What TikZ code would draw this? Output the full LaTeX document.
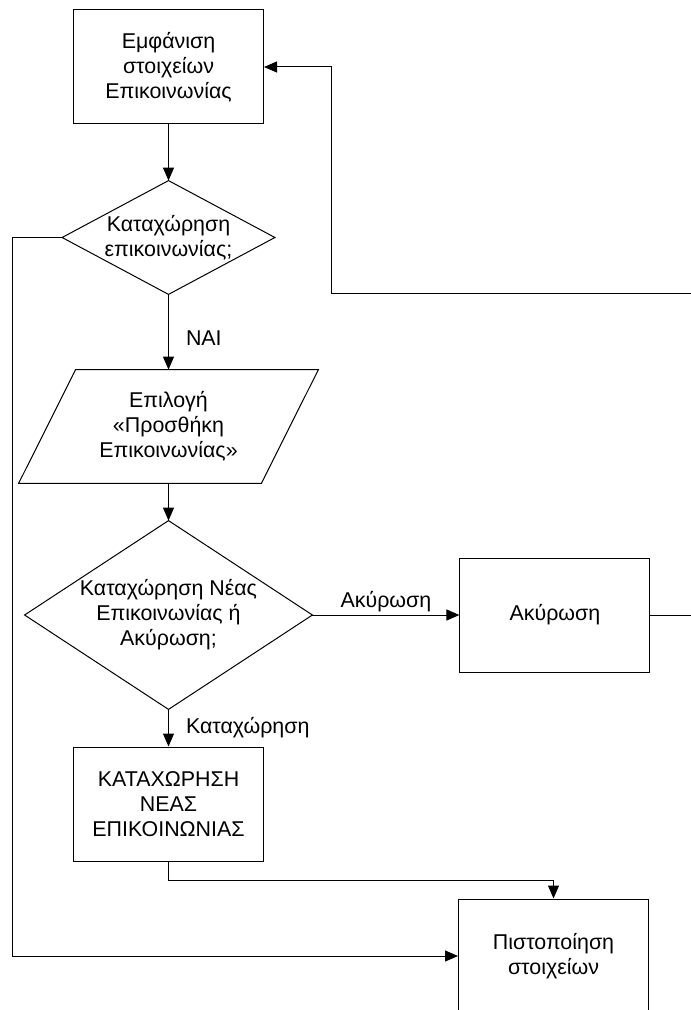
\documentclass[tikz,border=0pt]{standalone}
\usepackage{fontspec}
\setmainfont{Liberation Sans}
\usetikzlibrary{arrows.meta,positioning,calc}

\begin{document}
\begin{tikzpicture}[
    x=0.5pt, y=-0.5pt,
    every node/.style={font=\fontsize{10.7}{12.5}\selectfont},
    box/.style={rectangle, draw, line width=0.5pt, align=center, minimum width=95pt, minimum height=57pt, inner sep=2pt},
    dec/.style={rectangle, align=center, inner sep=0pt},
    io/.style={rectangle, align=center, inner sep=0pt, minimum width=121pt, minimum height=56.5pt},
    lbl/.style={inner sep=0pt},
    line/.style={line width=0.5pt},
    arrow/.style={-{Triangle[length=6.5pt, width=5.5pt]}, line width=0.5pt}
]
    \useasboundingbox (0,0) rectangle (690,1010);

    \node [box] (show) at (168.5,67) {Εμφάνιση\\στοιχείων\\Επικοινωνίας};
    \node [dec, minimum width=106pt, minimum height=56.5pt] (ask) at (168.5,237.5) {Καταχώρηση\\επικοινωνίας;};
    \node [io] (pick) at (168.5,426.5) {Επιλογή\\«Προσθήκη\\Επικοινωνίας»};
    \node [dec, minimum width=143.5pt, minimum height=94pt] (ask2) at (168.5,615) {Καταχώρηση Νέας\\Επικοινωνίας ή\\Ακύρωση;};
    \node [box, right=73.5pt of ask2] (cancel) {Ακύρωση};
    \node [box] (save) at (168.5,804) {ΚΑΤΑΧΩΡΗΣΗ\\ΝΕΑΣ\\ΕΠΙΚΟΙΝΩΝΙΑΣ};
    \node [box] (check) at (553.5,956) {Πιστοποίηση\\στοιχείων};
    \coordinate (edge) at (700,294);

    \draw [line] (ask.north) -- (ask.east) -- (ask.south) -- (ask.west) -- cycle;
    \draw [line] (ask2.north) -- (ask2.east) -- (ask2.south) -- (ask2.west) -- cycle;
    \draw [line] ($(pick.north west)+(28.5,0)$) -- ($(pick.north east)+(28.5,0)$) -- ($(pick.south east)-(28.5,0)$) -- ($(pick.south west)-(28.5,0)$) -- cycle;

    \draw [arrow] (show.south) -- (ask.north);
    \draw [arrow] (ask.south) -- node [lbl, right=8.5pt, pos=0.58] {ΝΑΙ} (pick.north);
    \draw [arrow] (pick.south) -- (ask2.north);
    \draw [arrow] (ask2.east) -- node [lbl, above=1.5pt] {Ακύρωση} (cancel.west);
    \draw [arrow] (ask2.south) -- node [lbl, right=8.5pt] {Καταχώρηση} (save.north);
    \draw [arrow] (save.south) -- ++(0,19) -| (check.north);
    \draw [arrow] (ask.west) -- ++(-50,0) |- (check.west);
    \draw [arrow] (cancel.east) -| (edge) -- (331,294) |- (show.east);
\end{tikzpicture}
\end{document}
